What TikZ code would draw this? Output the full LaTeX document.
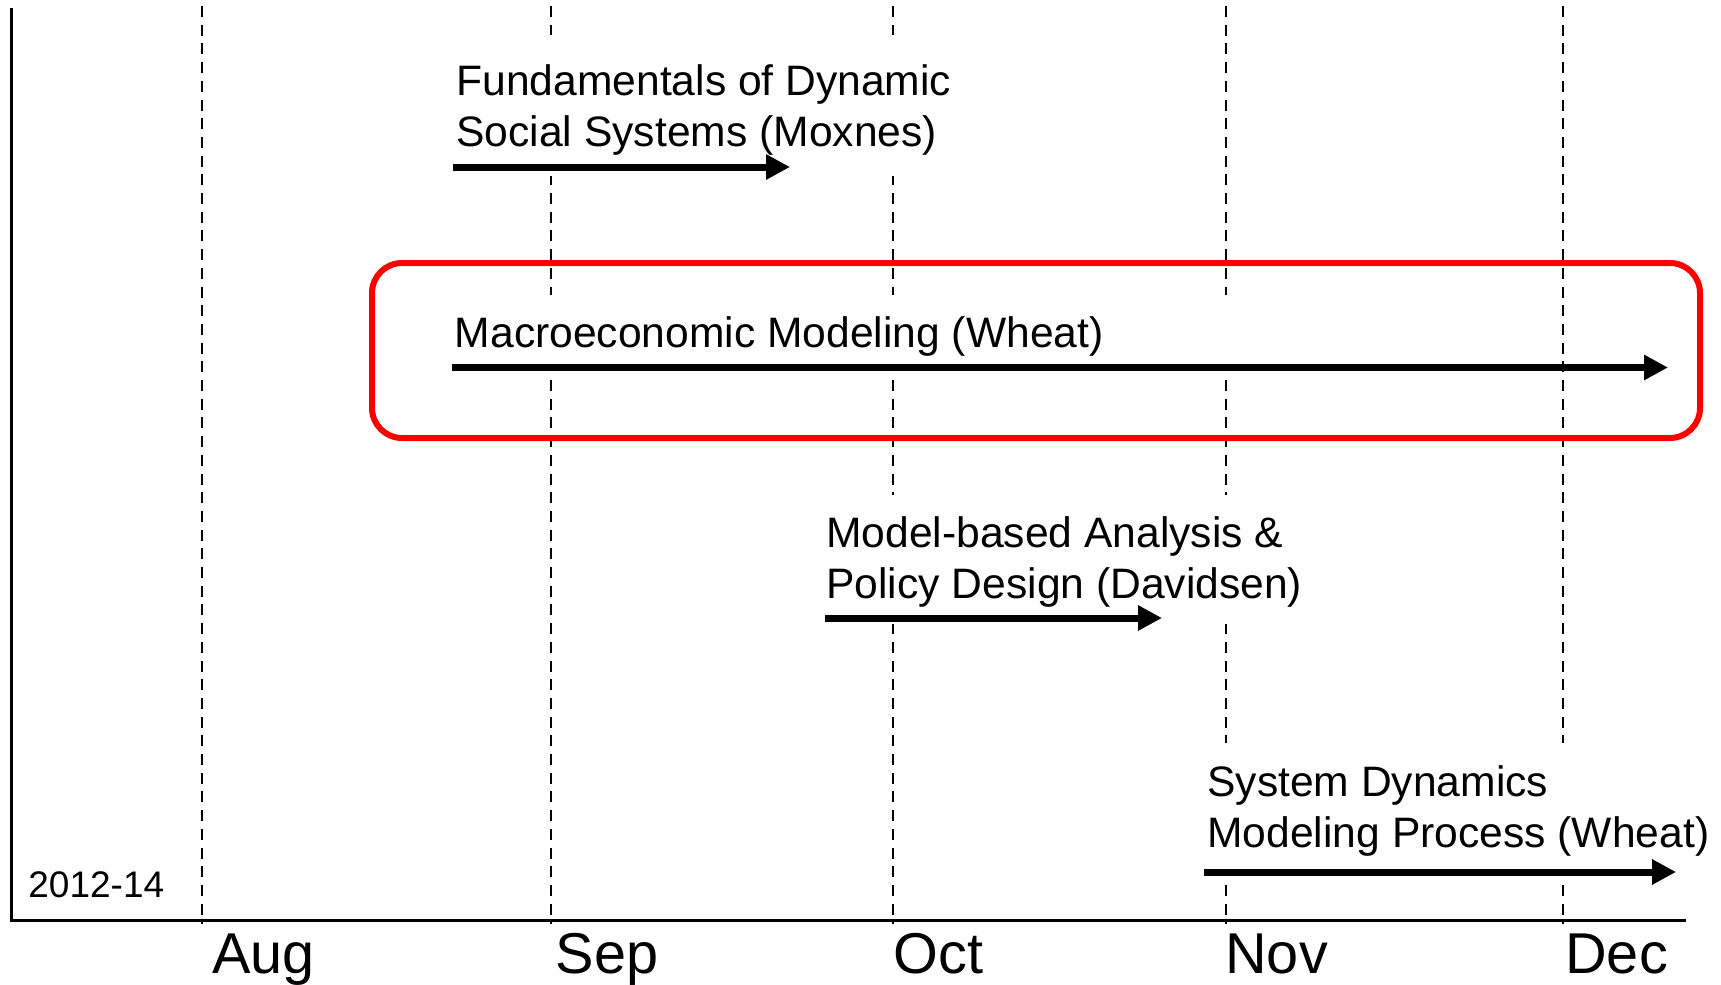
\documentclass[tikz,border=0pt]{standalone}
\usepackage{fontspec}
\setmainfont{Liberation Sans}
\usetikzlibrary{arrows.meta}
\begin{document}
\begin{tikzpicture}[x=0.5pt,y=-0.5pt,
  axisline/.style={line width=1.35pt, black},
  gridline/.style={line width=1.35pt, black, dash pattern=on 5.5pt off 3.85pt},
  cover/.style={fill=white, draw=none},
  task/.style={anchor=base west, inner sep=0pt, align=left, font=\fontsize{21.3}{25.3}\selectfont},
  month/.style={anchor=base west, inner sep=0pt, font=\fontsize{28.8}{34}\selectfont},
  yearlbl/.style={anchor=base west, inner sep=0pt, font=\fontsize{18.5}{22}\selectfont},
  spanarrow/.style={line width=3.5pt, -{Triangle[length=12pt,width=12pt]}},
  focus/.style={draw=red, line width=3pt, rounded corners=15pt}
]
\useasboundingbox (0,0) rectangle (1721,985);
% month grid lines
\foreach \n/\x in {aug/202, sep/551, oct/893, nov/1226, dec/1563}{
  \coordinate (\n T) at (\x,6);
  \coordinate (\n B) at (\x,924);
  \draw[gridline] (\n T) -- (\n B);
}
% white text backgrounds that hide the grid lines
\fill[cover] (445,35) rectangle (960,176);
\fill[cover] (445,295) rectangle (1250,378);
\fill[cover] (820,495) rectangle (1300,624);
\fill[cover] (1200,743) rectangle (1715,884);
% axes
\coordinate (ytop) at (11.3,8);
\coordinate (origin) at (11.3,920.5);
\coordinate (xend) at (1686,920.5);
\draw[axisline] (ytop) -- (origin) -- (xend);
% highlight
\draw[focus] (372,263) rectangle (1700,438);
% task arrows
\coordinate (fundS) at (453,167);
\coordinate (fundE) at (790,167);
\coordinate (macroS) at (452,367.5);
\coordinate (macroE) at (1668,367.5);
\coordinate (modelS) at (825,618);
\coordinate (modelE) at (1162,618);
\coordinate (sdmS) at (1204,872);
\coordinate (sdmE) at (1676,872);
\draw[spanarrow] (fundS) -- (fundE);
\draw[spanarrow] (macroS) -- (macroE);
\draw[spanarrow] (modelS) -- (modelE);
\draw[spanarrow] (sdmS) -- (sdmE);
% task labels (base = baseline of last line)
\node[task] (fund) at (456,146) {Fundamentals of Dynamic\\Social Systems (Moxnes)};
\node[task] (macro) at (454.5,347) {Macroeconomic Modeling (Wheat)};
\node[task] (model) at (826,598) {Model-based Analysis \&\\Policy Design (Davidsen)};
\node[task] (sdm) at (1207,847) {System Dynamics\\Modeling Process (Wheat)};
% axis labels
\node[yearlbl] (yr) at (28,897.7) {2012-14};
\node[month] (augL) at (212,973) {Aug};
\node[month] (sepL) at (555.5,973) {Sep};
\node[month] (octL) at (893,973) {Oct};
\node[month] (novL) at (1225,973) {Nov};
\node[month] (decL) at (1565,973) {Dec};
\end{tikzpicture}
\end{document}
